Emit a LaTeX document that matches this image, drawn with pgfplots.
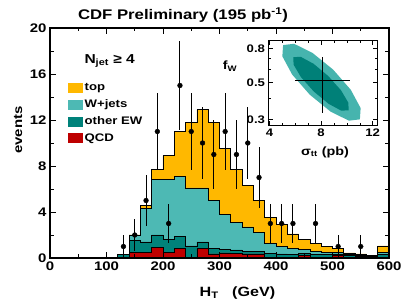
\documentclass[border=0pt]{standalone}
\usepackage{fontspec}
\setmainfont[FakeStretch=1.2]{Liberation Sans}
\usepackage{pgfplots}
\pgfplotsset{compat=1.18}
\definecolor{ctop}{RGB}{255,184,0}
\definecolor{cw}{RGB}{77,185,180}
\definecolor{cew}{RGB}{0,130,122}
\definecolor{cqcd}{RGB}{190,0,0}
\definecolor{cin}{RGB}{0,128,120}
\definecolor{cout}{RGB}{70,180,174}
\newcommand{\fs}[1]{\fontsize{#1}{#1}\selectfont}

\pgfplotstableread{
x y
120 0.3
140 2.0
160 4.6
180 7.7
200 8.9
220 11.0
240 11.8
260 12.9
280 11.8
300 9.5
320 7.7
340 6.3
360 5.0
380 3.5
400 2.9
420 2.1
440 1.65
460 1.3
480 1.0
500 0.8
520 0.45
540 0.35
560 0.25
580 1.05
600 1.05
}\toptab
\pgfplotstableread{
x y
120 0.3
140 2.0
160 4.3
180 6.8
200 6.8
220 7.1
240 6.1
260 6.1
280 5.0
300 3.8
320 3.1
340 2.7
360 2.2
380 1.25
400 1.0
420 0.85
440 0.75
460 0.6
480 0.5
500 0.5
520 0.3
540 0.25
560 0.2
580 0.5
600 0.5
}\wtab
\pgfplotstableread{
x y
120 0.3
140 1.5
160 1.4
180 2.0
200 1.6
220 1.9
240 1.05
260 1.4
280 0.8
300 0.75
320 0.7
340 0.6
360 0.55
380 0.4
400 0.35
420 0.3
440 0.4
460 0.3
480 0.3
500 0.35
520 0.2
540 0.15
560 0.15
580 0.3
600 0.3
}\ewtab
\pgfplotstableread{
x y
120 0
140 0.5
160 0.5
180 0.9
200 0.5
220 0.8
240 0
260 0.8
280 0.35
300 0.45
320 0.4
340 0.35
360 0.35
380 0
400 0
420 0
440 0.25
460 0
480 0
500 0.2
520 0
540 0
560 0
580 0
600 0
}\qcdtab
\pgfplotstableread{
x y e
130 1 1
150 2 1.414
170 5 2.236
190 11 3.317
210 3 1.732
230 15 3.873
250 11 3.317
270 10 3.162
290 9 3
310 11 3.317
330 9 3
350 10 3.162
370 7 2.646
390 3 1.732
410 3 1.732
430 3 1.732
470 3 1.732
510 1 1
550 1 1
}\datatab

\begin{document}
\begin{tikzpicture}
\begin{axis}[
  at={(0,0)}, anchor=south west,
  width=339bp, height=230bp, scale only axis,
  xmin=0, xmax=600, ymin=0, ymax=20,
  xtick={0,100,...,600}, ytick={0,4,...,20},
  minor x tick num=1, minor y tick num=1,
  major tick length=6bp, minor tick length=3.5bp,
  tick style={line width=0.8bp, black},
  axis line style={line width=1.4bp},
  tick align=inside,
  /pgf/number format/assume math mode=true,
  tick label style={font=\bfseries\fs{12.5}},
  axis on top,
  legend cell align=left,
  legend style={at={(rel axis cs:0.053,0.765)}, anchor=north west, draw=none, fill=none,
    font=\bfseries\fs{11}, row sep=4.5bp, inner sep=0pt, nodes={inner sep=1.5bp}},
  legend image code/.code={\fill[#1, draw=none] (0bp,-5bp) rectangle (15bp,5bp);},
]
\addplot[const plot mark left, fill=ctop, draw=black, line width=0.6bp] table {\toptab} \closedcycle;
\addplot[const plot mark left, fill=cw, draw=black, line width=0.6bp] table {\wtab} \closedcycle;
\addplot[const plot mark left, fill=cew, draw=black, line width=0.6bp] table {\ewtab} \closedcycle;
\addplot[const plot mark left, fill=cqcd, draw=black, line width=0.6bp] table {\qcdtab} \closedcycle;
\legend{top, W+jets, other EW, QCD}
\addplot[black, only marks, mark=*, mark size=2.4bp,
  error bars/.cd, y dir=both, y explicit, error mark=none,
  error bar style={line width=1bp, black}]
  table[x=x, y=y, y error=e] {\datatab};
\end{axis}

\begin{axis}[
  at={(218.5bp,133bp)}, anchor=south west,
  width=109bp, height=84.3bp, scale only axis,
  xmin=3.92, xmax=12.37, ymode=log, ymin=0.278, ymax=0.89,
  xtick={4,8,12}, minor xtick={5,6,7,9,10,11},
  ytick={0.3,0.5,0.8}, yticklabels={0.3,0.5,0.8}, minor ytick={0.4,0.6,0.7},
  major tick length=4bp, minor tick length=2.5bp,
  tick style={line width=0.6bp, black},
  axis line style={line width=0.8bp},
  tick align=inside,
  /pgf/number format/assume math mode=true,
  tick label style={font=\bfseries\fs{11}},
  axis background/.style={fill=white},
  axis on top,
]
\addplot[fill=cout, draw=none] coordinates {
(7.122,0.4222) (5.757,0.5574) (4.994,0.7173) (5.052,0.8379) (5.901,0.8528)
(7.323,0.7527) (8.936,0.5966) (10.30,0.4517) (11.063,0.3511) (11.005,0.3006)
(10.156,0.2951) (8.734,0.3344) (7.122,0.4222)} -- cycle;
\addplot[fill=cin, draw=none] coordinates {
(7.430,0.4416) (6.437,0.5380) (5.860,0.6401) (5.854,0.7092) (6.420,0.7123)
(7.406,0.6477) (8.549,0.5467) (9.542,0.4487) (10.119,0.3771) (10.125,0.3404)
(9.560,0.3389) (8.573,0.3727) (7.430,0.4416)} -- cycle;
\addplot[black, line width=1bp] coordinates {(5.97,0.513) (10.24,0.513)};
\addplot[black, line width=1bp] coordinates {(8.12,0.33) (8.12,0.71)};
\end{axis}

\node[font=\bfseries\fs{14}] at (133bp,243bp) {CDF Preliminary (195 pb\textsuperscript{-1})};
\node[font=\bfseries\fs{13}, anchor=west] at (31bp,197bp) {N\textsubscript{jet} ≥ 4};
\node[font=\bfseries\fs{12.5}, rotate=90] at (-32bp,128bp) {events};
\node[font=\bfseries\fs{13.5}] at (187.5bp,-35bp) {H\textsubscript{T}\ \ \ (GeV)};
\node[font=\bfseries\fs{12}] at (180bp,192bp) {f\textsubscript{W}};
\node[font=\bfseries\fs{12}] at (275bp,106bp) {σ\textsubscript{tt} (pb)};

\pgfresetboundingbox
\path[use as bounding box] (-50bp,-47bp) rectangle (355bp,258bp);
\end{tikzpicture}
\end{document}
